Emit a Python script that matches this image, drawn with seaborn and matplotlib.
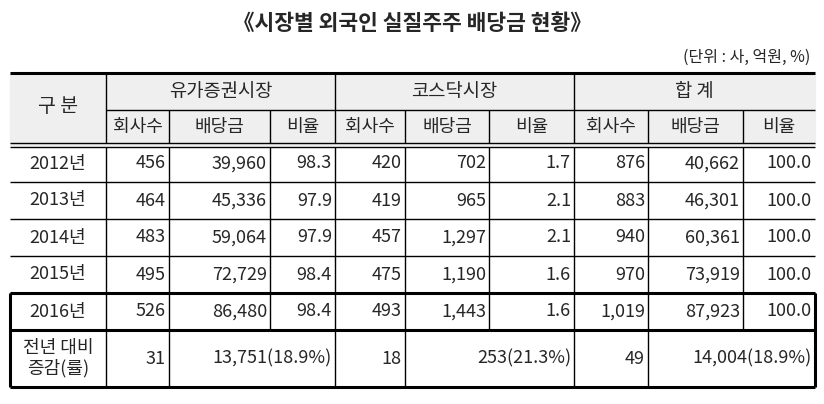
import matplotlib
matplotlib.use("Agg")
import matplotlib.pyplot as plt
import seaborn as sns

sns.set_style("white")
plt.rcParams['font.family'] = ['Noto Sans CJK KR', 'DejaVu Sans']

title = "《시장별 외국인 실질주주 배당금 현황》"
unit = "(단위 : 사, 억원, %)"
groups = ["유가증권시장", "코스닥시장", "합 계"]
subcols = ["회사수", "배당금", "비율"]
years = ["2012년", "2013년", "2014년", "2015년", "2016년"]
yu_cnt = [456, 464, 483, 495, 526]
yu_div = [39960, 45336, 59064, 72729, 86480]
yu_ratio = [98.3, 97.9, 97.9, 98.4, 98.4]
ko_cnt = [420, 419, 457, 475, 493]
ko_div = [702, 965, 1297, 1190, 1443]
ko_ratio = [1.7, 2.1, 2.1, 1.6, 1.6]
tot_cnt = [876, 883, 940, 970, 1019]
tot_div = [40662, 46301, 60361, 73919, 87923]
tot_ratio = [100.0] * 5
chg_label = "전년 대비\n증감(률)"
chg_cnt = [31, 18, 49]
chg_div = ["13,751(18.9%)", "253(21.3%)", "14,004(18.9%)"]

W, H = 824, 404
fig = plt.figure(figsize=(W / 100, H / 100), dpi=100)
ax = fig.add_axes([0, 0, 1, 1])
ax.set_xlim(0, W); ax.set_ylim(H, 0); ax.axis("off")

xs = [10, 106, 169, 270, 335, 405, 489, 574, 648, 743, 815]
rows = [145, 182, 219, 256, 293, 330, 387]
gray = "#efefef"
fs = 13

def line(x0, x1, y0, y1, lw=1.0):
    ax.plot([x0, x1], [y0, y1], color="black", lw=lw, solid_capstyle="butt")

ax.add_patch(plt.Rectangle((xs[0], 73), xs[-1] - xs[0], 72, color=gray, zorder=0))

ax.text(W / 2, 24, title, ha="center", va="center", fontsize=15.5, fontweight="bold")
ax.text(810, 57, unit, ha="right", va="center", fontsize=11.5)

ax.text((xs[0] + xs[1]) / 2, 107, "구 분", ha="center", va="center", fontsize=fs + 1)
for g in range(3):
    a, b = xs[1 + 3 * g], xs[4 + 3 * g]
    ax.text((a + b) / 2, 91, groups[g], ha="center", va="center", fontsize=fs + 0.5)
    for k in range(3):
        c0, c1 = xs[1 + 3 * g + k], xs[2 + 3 * g + k]
        ax.text((c0 + c1) / 2, 127, subcols[k], ha="center", va="center", fontsize=fs)

line(xs[0], xs[-1], 73, 73, 2.2)
line(xs[1], xs[-1], 110, 110)
line(xs[0], xs[-1], 143, 143)
line(xs[0], xs[-1], 147, 147)
for i in range(1, 10):
    y0 = 73 if i in (1, 4, 7) else 110
    line(xs[i], xs[i], y0, 143)

for r in range(5):
    y0, y1 = rows[r], rows[r + 1]
    yc = (y0 + y1) / 2
    ax.text((xs[0] + xs[1]) / 2, yc, years[r], ha="center", va="center", fontsize=fs)
    vals = [f"{yu_cnt[r]:,}", f"{yu_div[r]:,}", f"{yu_ratio[r]:.1f}",
            f"{ko_cnt[r]:,}", f"{ko_div[r]:,}", f"{ko_ratio[r]:.1f}",
            f"{tot_cnt[r]:,}", f"{tot_div[r]:,}", f"{tot_ratio[r]:.1f}"]
    for k, v in enumerate(vals):
        ax.text(xs[k + 2] - 3, yc, v, ha="right", va="center", fontsize=fs)
    for i in range(1, 10):
        line(xs[i], xs[i], max(y0, 147), y1)
    if r < 4:
        line(xs[0], xs[-1], y1, y1)

y0, y1 = rows[5], rows[6]
yc = (y0 + y1) / 2
ax.text((xs[0] + xs[1]) / 2, yc, chg_label, ha="center", va="center", fontsize=fs, linespacing=1.15)
for g in range(3):
    ax.text(xs[2 + 3 * g] - 3, yc, str(chg_cnt[g]), ha="right", va="center", fontsize=fs)
    ax.text(xs[4 + 3 * g] - 3, yc, chg_div[g], ha="right", va="center", fontsize=fs)
    line(xs[1 + 3 * g], xs[1 + 3 * g], y0, y1)
    line(xs[2 + 3 * g], xs[2 + 3 * g], y0, y1)

line(xs[0], xs[-1], rows[4], rows[4], 2.2)
line(xs[0], xs[-1], rows[5], rows[5], 2.2)
line(xs[0], xs[-1], rows[6], rows[6], 2.2)
line(xs[0], xs[0], rows[4], rows[6], 2.2)
line(xs[-1], xs[-1], rows[4], rows[6], 2.2)

fig.savefig("out.png", dpi=100)
